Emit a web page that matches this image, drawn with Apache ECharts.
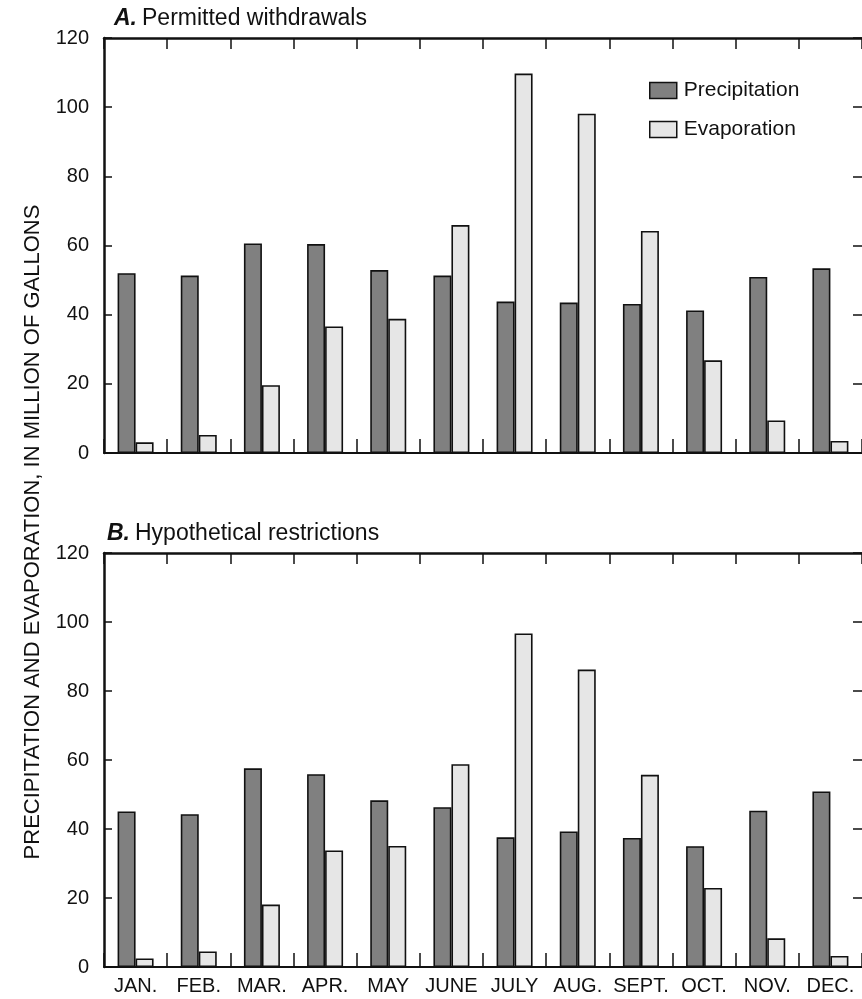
<!DOCTYPE html>
<html>
<head>
<meta charset="utf-8">
<script src="https://cdn.jsdelivr.net/npm/echarts@6/dist/echarts.min.js"></script>
<style>
  html, body { margin: 0; padding: 0; background: #ffffff; overflow: hidden; }
  #chart { width: 862px; height: 999px; }
</style>
</head>
<body>
<div id="chart"></div>
<script>
// Monthly categories shared by both panels
const months = ['JAN.', 'FEB.', 'MAR.', 'APR.', 'MAY', 'JUNE', 'JULY', 'AUG.', 'SEPT.', 'OCT.', 'NOV.', 'DEC.'];

// Panel A: permitted withdrawals (million gallons)
const precipPermitted = [52.0, 51.3, 60.6, 60.4, 52.9, 51.3, 43.8, 43.5, 43.1, 41.2, 50.9, 53.4];
const evapPermitted   = [3.1, 5.2, 19.6, 36.6, 38.8, 65.9, 109.7, 98.1, 64.2, 26.8, 9.4, 3.5];

// Panel B: hypothetical restrictions (million gallons)
const precipRestricted = [45.1, 44.3, 57.6, 55.9, 48.3, 46.3, 37.6, 39.3, 37.4, 35.0, 45.3, 50.9];
const evapRestricted   = [2.5, 4.5, 18.1, 33.8, 35.1, 58.8, 96.7, 86.2, 55.7, 22.9, 8.3, 3.2];

// Value axis range
const yMin = 0, yMax = 120, yStep = 20;

const FONT = '"Liberation Sans", Arial, Helvetica, sans-serif';
const INK = '#111111';
const PRECIP_FILL = '#808080';
const EVAP_FILL = '#e6e6e6';

const chart = echarts.init(document.getElementById('chart'), null, { renderer: 'canvas' });

function bottomAxis(gridIndex, showLabels) {
  return {
    type: 'category', gridIndex, position: 'bottom', data: months,
    boundaryGap: true,
    axisLine: { show: true, onZero: false, lineStyle: { color: INK, width: 2 } },
    axisTick: { show: true, inside: true, length: 14, lineStyle: { color: INK, width: 1.5 } },
    axisLabel: { show: showLabels, margin: 9, color: INK, fontFamily: FONT, fontSize: 20, interval: 0 },
    splitLine: { show: false }
  };
}
function topAxis(gridIndex) {
  return {
    type: 'category', gridIndex, position: 'top', data: months,
    boundaryGap: true,
    axisLine: { show: true, onZero: false, lineStyle: { color: INK, width: 2.5 } },
    axisTick: { show: true, inside: true, length: 11, lineStyle: { color: INK, width: 1.5 } },
    axisLabel: { show: false },
    splitLine: { show: false }
  };
}
function leftAxis(gridIndex) {
  return {
    type: 'value', gridIndex, position: 'left', min: yMin, max: yMax, interval: yStep,
    axisLine: { show: true, lineStyle: { color: INK, width: 2.5 } },
    axisTick: { show: true, inside: true, length: 8, lineStyle: { color: INK, width: 1.5 } },
    axisLabel: { show: true, margin: 15, color: INK, fontFamily: FONT, fontSize: 20 },
    splitLine: { show: false }
  };
}
function rightAxis(gridIndex) {
  return {
    type: 'value', gridIndex, position: 'right', min: yMin, max: yMax, interval: yStep,
    axisLine: { show: false },
    axisTick: { show: true, inside: true, length: 9, lineStyle: { color: INK, width: 1.5 } },
    axisLabel: { show: false },
    splitLine: { show: false }
  };
}
function barSeries(name, data, axisIdx, fill) {
  return {
    type: 'bar', name, data,
    xAxisIndex: axisIdx, yAxisIndex: axisIdx,
    barWidth: 18, barGap: '0%',
    itemStyle: { color: fill, borderColor: INK, borderWidth: 1.6 },
    emphasis: { disabled: true },
    silent: true, animation: false
  };
}
function panelTitle(key, text, left, top) {
  return {
    text: '{k|' + key + '} {t|' + text + '}', left, top,
    textStyle: { fontWeight: 'normal', rich: {
      k: { fontFamily: FONT, fontSize: 23, fontWeight: 'bold', fontStyle: 'italic', color: INK },
      t: { fontFamily: FONT, fontSize: 23, fontWeight: 'normal', color: INK }
    } }
  };
}

const option = {
  backgroundColor: '#ffffff',
  animation: false,
  textStyle: { fontFamily: FONT },
  title: [
    panelTitle('A.', 'Permitted withdrawals', 109, 2),
    panelTitle('B.', 'Hypothetical restrictions', 102, 517)
  ],
  legend: {
    data: ['Precipitation', 'Evaporation'],
    orient: 'vertical', left: 649, top: 80, padding: 0,
    itemWidth: 27, itemHeight: 16, itemGap: 18,
    icon: 'rect',
    itemStyle: { borderColor: INK, borderWidth: 1.5 },
    textStyle: { fontFamily: FONT, fontSize: 21, color: INK, padding: [0, 0, 0, 2] },
    selectedMode: false
  },
  grid: [
    { left: 104, top: 38, width: 761, height: 415 },
    { left: 104, top: 553, width: 761, height: 414 }
  ],
  xAxis: [bottomAxis(0, false), topAxis(0), bottomAxis(1, true), topAxis(1)],
  yAxis: [leftAxis(0), rightAxis(0), leftAxis(1), rightAxis(1)],
  series: [
    barSeries('Precipitation', precipPermitted, 0, PRECIP_FILL),
    barSeries('Evaporation', evapPermitted, 0, EVAP_FILL),
    barSeries('Precipitation', precipRestricted, 2, PRECIP_FILL),
    barSeries('Evaporation', evapRestricted, 2, EVAP_FILL)
  ],
  graphic: [
    {
      type: 'text', x: 33, y: 532, rotation: Math.PI / 2,
      style: {
        text: 'PRECIPITATION AND EVAPORATION, IN MILLION OF GALLONS',
        fontFamily: FONT, fontSize: 22, fill: INK,
        align: 'center', verticalAlign: 'middle'
      }
    }
  ]
};

chart.setOption(option);
</script>
</body>
</html>
